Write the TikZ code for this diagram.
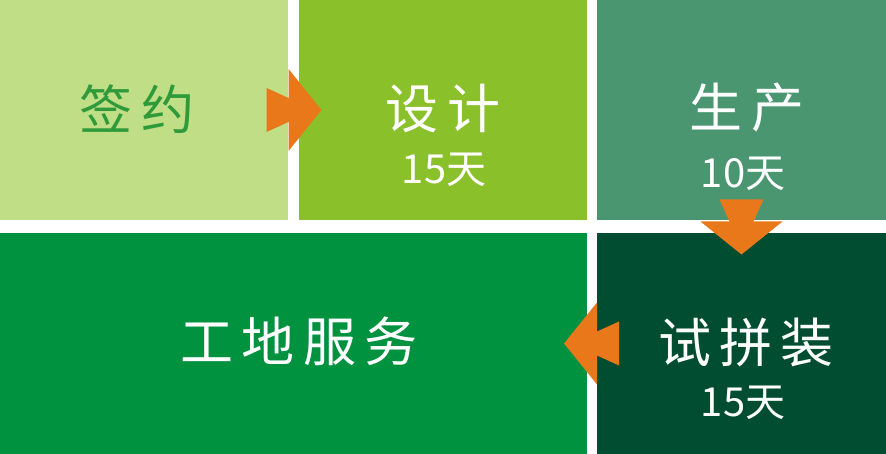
\documentclass[tikz,border=0pt]{standalone}
\usepackage{fontspec}
\newfontfamily\stagefont[LetterSpace=16]{Noto Sans CJK SC}
\newfontfamily\daysfont{Noto Sans CJK SC}
\usetikzlibrary{positioning,calc}

\definecolor{signbg}{HTML}{BFDE85}
\definecolor{designbg}{HTML}{8AC12B}
\definecolor{makebg}{HTML}{4A9670}
\definecolor{sitebg}{HTML}{00923F}
\definecolor{trialbg}{HTML}{004D31}
\definecolor{flowor}{HTML}{E8781A}
\definecolor{signtext}{HTML}{2E9A3A}

\tikzset{
    stage/.style = {rectangle, inner sep=0pt, outer sep=0pt, anchor=north west},
    title/.style = {text=white, inner sep=0pt, font=\stagefont\fontsize{53}{53}\selectfont},
    days/.style = {text=white, inner sep=0pt, font=\daysfont\fontsize{40}{40}\selectfont},
}

% orange arrow across a gap: #1 centre, #2 angle
\newcommand{\flowarrow}[2]{%
    \fill[flowor, shift={(#1)}, rotate=#2]
        (-27,-22) -- (-5,-12) -- (-5,-41) -- (28,0) -- (-5,41) -- (-5,12) -- (-27,22) -- cycle;}

\begin{document}
\begin{tikzpicture}[x=1pt, y=-1pt]
    \useasboundingbox (0,0) rectangle (886,454);

    \node[stage, fill=signbg, minimum width=288pt, minimum height=220pt] (sign) at (0,0) {};
    \node[stage, fill=designbg, minimum width=288pt, minimum height=220pt] (design) at (299,0) {};
    \node[stage, fill=makebg, minimum width=289pt, minimum height=220pt] (make) at (597,0) {};
    \node[stage, fill=sitebg, minimum width=587pt, minimum height=221pt] (site) at (0,233) {};
    \node[stage, fill=trialbg, minimum width=289pt, minimum height=221pt] (trial) at (597,233) {};

    \node[title, text=signtext] (signt) at (137,109) {签约};
    \node[title] (designt) at (443,109) {设计};
    \node[title] (maket) at (747,108) {生产};
    \node[title] (sitet) at (299,341) {工地服务};
    \node[title] (trialt) at (746,342) {试拼装};

    \node[days] (designd) at (444,170) {15天};
    \node[days] (maked) at (743,174) {10天};
    \node[days] (triald) at (743,403) {15天};

    \coordinate (gap1) at ($(sign.east)!0.5!(design.west)$);
    \coordinate (gap2) at ($(make.south)!0.5!(trial.north)$);
    \coordinate (gap3) at ($(site.east)!0.5!(trial.west)$);
    \flowarrow{gap1}{0}
    \flowarrow{gap2}{-90}
    \flowarrow{gap3}{180}

\end{tikzpicture}
\end{document}
